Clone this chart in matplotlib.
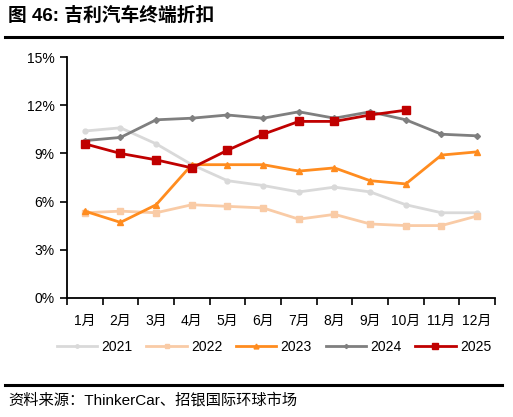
import matplotlib
matplotlib.use("Agg")
import matplotlib.pyplot as plt
from matplotlib.lines import Line2D
import numpy as np

plt.rcParams['font.family'] = ['Liberation Sans', 'Noto Sans CJK SC', 'DejaVu Sans']

months = ['1月', '2月', '3月', '4月', '5月', '6月', '7月', '8月', '9月', '10月', '11月', '12月']
y2021 = [10.4, 10.6, 9.6, 8.3, 7.3, 7.0, 6.6, 6.9, 6.6, 5.8, 5.3, 5.3]
y2022 = [5.3, 5.4, 5.3, 5.8, 5.7, 5.6, 4.9, 5.2, 4.6, 4.5, 4.5, 5.1]
y2023 = [5.4, 4.7, 5.8, 8.3, 8.3, 8.3, 7.9, 8.1, 7.3, 7.1, 8.9, 9.1]
y2024 = [9.8, 10.0, 11.1, 11.2, 11.4, 11.2, 11.6, 11.2, 11.6, 11.1, 10.2, 10.1]
y2025 = [9.6, 9.0, 8.6, 8.1, 9.2, 10.2, 11.0, 11.0, 11.4, 11.7]

series = [
    ('2021', y2021, '#D9D9D9', 'o', 3.5),
    ('2022', y2022, '#F9CBA6', 's', 4),
    ('2023', y2023, '#FF8C1F', '^', 5),
    ('2024', y2024, '#7F7F7F', 'D', 3),
    ('2025', y2025, '#C00000', 's', 5.5),
]

fig = plt.figure(figsize=(5.13, 4.17), dpi=100)
ax = fig.add_axes([67 / 513, 119.3 / 417, 428 / 513, 240.4 / 417])

x = np.arange(len(months))
handles = []
for name, vals, color, marker, ms in series:
    ax.plot(x[:len(vals)], vals, color=color, lw=2, marker=marker, ms=ms,
            markeredgecolor=color, label=name)
    handles.append(Line2D([], [], color=color, lw=2, marker=marker, ms=ms * 0.7,
                          markeredgecolor=color, label=name))

ax.set_xlim(-0.5, 11.5)
ax.set_ylim(0, 15)
ax.set_yticks([0, 3, 6, 9, 12, 15])
ax.set_yticklabels(['0%', '3%', '6%', '9%', '12%', '15%'], fontsize=10)
ax.set_xticks(x)
ax.set_xticklabels(months, fontsize=10)
ax.set_xticks(np.arange(-0.5, 12, 1), minor=True)
ax.tick_params(axis='x', which='major', length=0, pad=12)
ax.tick_params(axis='x', which='minor', length=5, width=1.2, direction='out')
ax.tick_params(axis='y', length=5, width=1.2, direction='out', pad=4)
for side in ['top', 'right']:
    ax.spines[side].set_visible(False)
for side in ['left', 'bottom']:
    ax.spines[side].set_linewidth(1.3)

fig.legend(handles=handles, loc='center', bbox_to_anchor=(274 / 513, 1 - 347 / 417), ncol=5,
           frameon=False, fontsize=10, handlelength=2.9, columnspacing=1.0, handletextpad=0.3)

fig.text(8 / 513, 1 - 16 / 417, '图 46: 吉利汽车终端折扣', fontsize=13.5, fontweight='bold',
         va='center', ha='left')
fig.add_artist(Line2D([5 / 513, 502 / 513], [1 - 37 / 417, 1 - 37 / 417], color='black', lw=2.2))
fig.add_artist(Line2D([5 / 513, 502 / 513], [1 - 385 / 417, 1 - 385 / 417], color='black', lw=2.2))
fig.text(8 / 513, 1 - 400 / 417, '资料来源：ThinkerCar、招银国际环球市场', fontsize=11,
         va='center', ha='left')

fig.savefig('out.png', dpi=100)
